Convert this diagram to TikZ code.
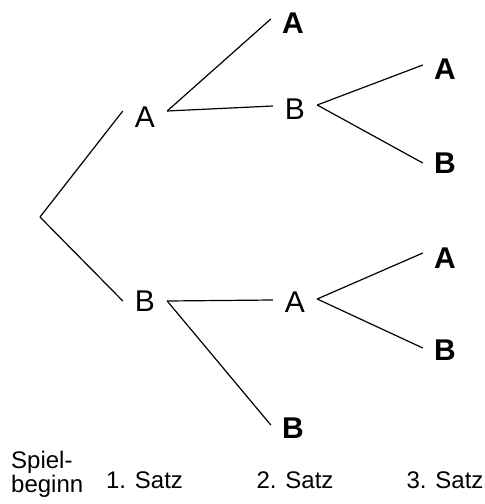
\documentclass[tikz,border=0pt]{standalone}
\usepackage{fontspec}
\setmainfont{Liberation Sans}
\begin{document}
\begin{tikzpicture}[x=1pt,y=-1pt,
  lbl/.style={inner sep=0pt,minimum width=44pt,font=\fontsize{30}{30}\selectfont},
  res/.style={lbl,font=\fontsize{30}{30}\selectfont\bfseries},
  satzlbl/.style={inner sep=0pt,font=\fontsize{24}{21}\selectfont},
  conn/.style={line width=1.2pt}]
\useasboundingbox (0,0) rectangle (485,504);
\coordinate (root) at (40,217);
\node[lbl] (A1) at (145,117) {A};
\node[lbl] (B1) at (145,301) {B};
\node[res] (AA) at (293,23) {A};
\node[lbl] (AB) at (295,109) {B};
\node[lbl] (BA) at (295,302) {A};
\node[res] (BB) at (293,428) {B};
\node[res] (ABA) at (445,69) {A};
\node[res] (ABB) at (445,163) {B};
\node[res] (BAA) at (445,258) {A};
\node[res] (BAB) at (445,350) {B};
\draw[conn] (root) -- ([yshift=6pt]A1.west);
\draw[conn] (root) -- (B1.west);
\draw[conn] ([yshift=6pt]A1.east) -- ([yshift=4pt]AA.west);
\draw[conn] ([yshift=6pt]A1.east) -- ([yshift=3pt]AB.west);
\draw[conn] ([yshift=4pt]AB.east) -- ([yshift=4pt]ABA.west);
\draw[conn] ([yshift=4pt]AB.east) -- (ABB.west);
\draw[conn] (B1.east) -- ([yshift=2pt]BA.west);
\draw[conn] (B1.east) -- ([yshift=3pt]BB.west);
\draw[conn] ([yshift=3pt]BA.east) -- ([yshift=5pt]BAA.west);
\draw[conn] ([yshift=3pt]BA.east) -- ([yshift=2pt]BAB.west);
\node[satzlbl,anchor=base west,align=left] (start) at (11,492) {Spiel-\\beginn};
\node[satzlbl] (s1) at (144.5,480) {1. Satz};
\node[satzlbl] (s2) at (295,480) {2. Satz};
\node[satzlbl] (s3) at (445,480) {3. Satz};
\end{tikzpicture}
\end{document}
